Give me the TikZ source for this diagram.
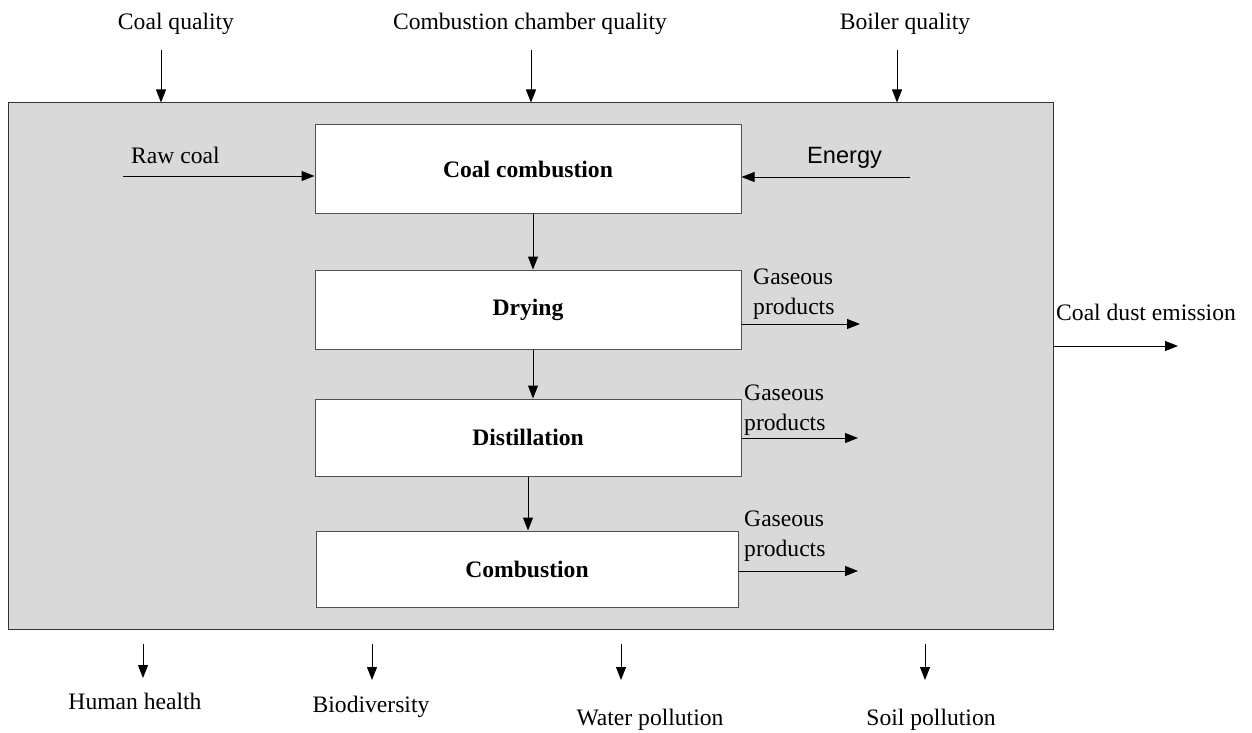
\documentclass[tikz,border=0pt]{standalone}
\usepackage{fontspec}
\setmainfont{Liberation Serif}
\newfontfamily\arialfont{Liberation Sans}
\usetikzlibrary{arrows.meta}
\definecolor{bg}{HTML}{D9D9D9}
\definecolor{edge}{HTML}{505050}
\begin{document}
\begin{tikzpicture}[x=1pt,y=-1pt,
  font=\fontsize{23.6}{30}\selectfont,
  arr/.style={-{Triangle[length=13pt,width=10pt]}, line width=1pt},
  stepbox/.style={draw=edge, fill=white, line width=1pt, inner sep=0,
    font=\fontsize{23.6}{30}\selectfont\bfseries},
  lbl/.style={inner sep=0, anchor=base},
  lblw/.style={inner sep=0, anchor=base west}]
\useasboundingbox (0,0) rectangle (1252,733);
% system boundary
\node[draw=black!80, fill=bg, line width=1pt, minimum width=1045pt, minimum height=526pt, inner sep=0] (sys) at (530.5,366) {};
% process boxes
\node[stepbox, minimum width=426pt, minimum height=88pt] (cc) at (528,169) {Coal combustion};
\node[stepbox, minimum width=426pt, minimum height=79pt] (dr) at (528,309.5) {Drying};
\node[stepbox, minimum width=426pt, minimum height=77pt] (di) at (528,437.5) {Distillation};
\node[stepbox, minimum width=422pt, minimum height=76pt] (co) at (527,569) {Combustion};
\draw[arr] ([xshift=5pt]cc.south) -- ([xshift=5pt]dr.north);
\draw[arr] ([xshift=5pt]dr.south) -- ([xshift=5pt]di.north);
\draw[arr] (di.south) -- (di.south |- co.north);
% top inputs
\node[lbl] (tq1) at (176,30) {Coal quality};
\node[lbl] (tq2) at (530,30) {Combustion chamber quality};
\node[lbl] (tq3) at (905,30) {Boiler quality};
\coordinate (a1) at (161,50);
\coordinate (a2) at (531,50);
\coordinate (a3) at (897,50);
\draw[arr] (a1) -- (a1 |- sys.north);
\draw[arr] (a2) -- (a2 |- sys.north);
\draw[arr] (a3) -- (a3 |- sys.north);
% raw coal and energy
\node[lblw] (rct) at (131,163) {Raw coal};
\coordinate (rc) at (123,176);
\draw[arr] (rc) -- (rc -| cc.west);
\node[lblw, font=\fontsize{23.6}{30}\selectfont\arialfont] (ent) at (807,163) {Energy};
\coordinate (en) at (910,177);
\draw[arr] (en) -- (en -| cc.east);
% gaseous products
\node[lblw] (g1a) at (753,284) {Gaseous};
\node[lblw] (g1b) at (753,314) {products};
\coordinate (g1) at (860,324);
\draw[arr] (g1 -| dr.east) -- (g1);
\node[lblw] (g2a) at (744,400) {Gaseous};
\node[lblw] (g2b) at (744,430) {products};
\coordinate (g2) at (858,438);
\draw[arr] (g2 -| di.east) -- (g2);
\node[lblw] (g3a) at (744,526) {Gaseous};
\node[lblw] (g3b) at (744,556) {products};
\coordinate (g3) at (858,571);
\draw[arr] (g3 -| co.east) -- (g3);
% coal dust emission
\node[lblw] (cde) at (1056,320) {Coal dust emission};
\coordinate (cd) at (1178,346);
\draw[arr] (cd -| sys.east) -- (cd);
% bottom impacts
\coordinate (b1) at (143,678);
\coordinate (b2) at (372,680);
\coordinate (b3) at (621,680);
\coordinate (b4) at (925,680);
\draw[arr] ([yshift=-14pt]b1 |- sys.south) -- (b1);
\draw[arr] ([yshift=-14pt]b2 |- sys.south) -- (b2);
\draw[arr] ([yshift=-14pt]b3 |- sys.south) -- (b3);
\draw[arr] ([yshift=-14pt]b4 |- sys.south) -- (b4);
\node[lbl] (h1) at (135,709) {Human health};
\node[lbl] (h2) at (371,712) {Biodiversity};
\node[lbl] (h3) at (650,725) {Water pollution};
\node[lbl] (h4) at (931,725) {Soil pollution};
\end{tikzpicture}
\end{document}
